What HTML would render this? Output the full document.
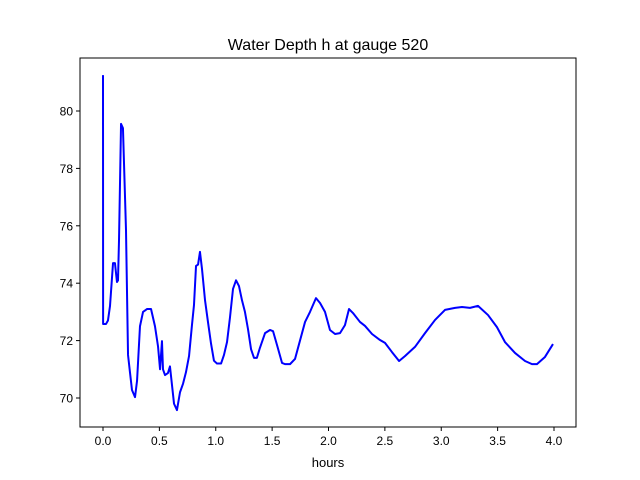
<!DOCTYPE html>
<html><head><meta charset="utf-8"><style>
html,body{margin:0;padding:0;background:#fff;}
svg{display:block;font-family:"Liberation Sans","DejaVu Sans",sans-serif;}
</style></head><body>
<svg id="chart" width="640" height="480">
<rect width="640" height="480" fill="#fff"/>
<text x="328" y="50" font-size="16" text-anchor="middle">Water Depth h at gauge 520</text>
<g id="axes"></g>
<text x="328" y="467" font-size="13" text-anchor="middle">hours</text>
</svg>
<script>
const hours=[0,0.001,0.027,0.044,0.062,0.089,0.106,0.124,0.133,0.142,0.160,0.177,0.204,0.222,0.239,0.257,0.284,0.302,0.328,0.355,0.390,0.426,0.461,0.488,0.506,0.523,0.532,0.550,0.576,0.594,0.612,0.630,0.656,0.683,0.710,0.736,0.763,0.789,0.807,0.825,0.843,0.860,0.878,0.905,0.931,0.958,0.984,1.011,1.047,1.073,1.100,1.126,1.153,1.180,1.206,1.233,1.259,1.286,1.313,1.339,1.365,1.392,1.437,1.481,1.508,1.543,1.588,1.614,1.659,1.703,1.792,1.836,1.889,1.925,1.969,2.013,2.058,2.102,2.146,2.182,2.217,2.279,2.324,2.386,2.457,2.501,2.563,2.626,2.678,2.767,2.856,2.945,3.033,3.122,3.184,3.255,3.326,3.415,3.494,3.565,3.654,3.743,3.805,3.849,3.920,3.991];
const depth=[81.25,72.58,72.58,72.7,73.2,74.7,74.7,74.04,74.1,75.5,79.55,79.4,75.85,71.5,70.9,70.28,70.03,70.6,72.5,73.0,73.1,73.1,72.5,71.8,71.0,71.98,71.0,70.8,70.87,71.1,70.45,69.8,69.58,70.2,70.5,70.9,71.46,72.54,73.24,74.6,74.65,75.09,74.5,73.4,72.65,71.9,71.3,71.2,71.2,71.5,71.95,72.8,73.8,74.1,73.9,73.4,73.0,72.4,71.7,71.4,71.4,71.75,72.26,72.37,72.33,71.85,71.22,71.18,71.18,71.36,72.65,73.0,73.48,73.31,73.0,72.37,72.23,72.26,72.54,73.10,72.96,72.65,72.51,72.23,72.02,71.92,71.60,71.29,71.46,71.78,72.26,72.72,73.07,73.14,73.17,73.14,73.21,72.89,72.47,71.95,71.57,71.29,71.18,71.18,71.43,71.88];
const xTicks=[0,0.5,1,1.5,2,2.5,3,3.5,4];
const xTickLabels=["0.0","0.5","1.0","1.5","2.0","2.5","3.0","3.5","4.0"];
const yTicks=[70,72,74,76,78,80];
const yTickLabels=["70","72","74","76","78","80"];
const L=80,R=576,T=58,B=427;
const X=t=>103+(t-0)*112.75;
const Y=v=>398-(v-70)*28.7;
const NS="http://www.w3.org/2000/svg";
const g=document.getElementById('axes');
function mk(tag,attrs){const e=document.createElementNS(NS,tag);for(const k in attrs)e.setAttribute(k,attrs[k]);g.appendChild(e);return e;}
// line
let d=hours.map((t,i)=>(i?'L':'M')+X(t).toFixed(2)+' '+Y(depth[i]).toFixed(2)).join(' ');
const p=mk('path',{d:d,fill:'none',stroke:'#0000ff','stroke-width':2,'stroke-linejoin':'round'});


const fr=mk('rect',{x:L,y:T,width:R-L,height:B-T,fill:'none',stroke:'#000','stroke-width':1});


xTicks.forEach((t,i)=>{
  const x=X(t);
  const tk=mk('line',{x1:x,y1:B,x2:x,y2:B+4,stroke:'#000'});
  
  
  const tx=mk('text',{x:x,y:B+18,'font-size':12,'text-anchor':'middle'});
  tx.textContent=xTickLabels[i];
  
  
});
yTicks.forEach((v,i)=>{
  const y=Y(v);
  const tk=mk('line',{x1:L-4,y1:y,x2:L,y2:y,stroke:'#000'});
  
  
  const tx=mk('text',{x:L-7,y:y+4.5,'font-size':12,'text-anchor':'end'});
  tx.textContent=yTickLabels[i];
  
  
});
</script>
</body></html>
